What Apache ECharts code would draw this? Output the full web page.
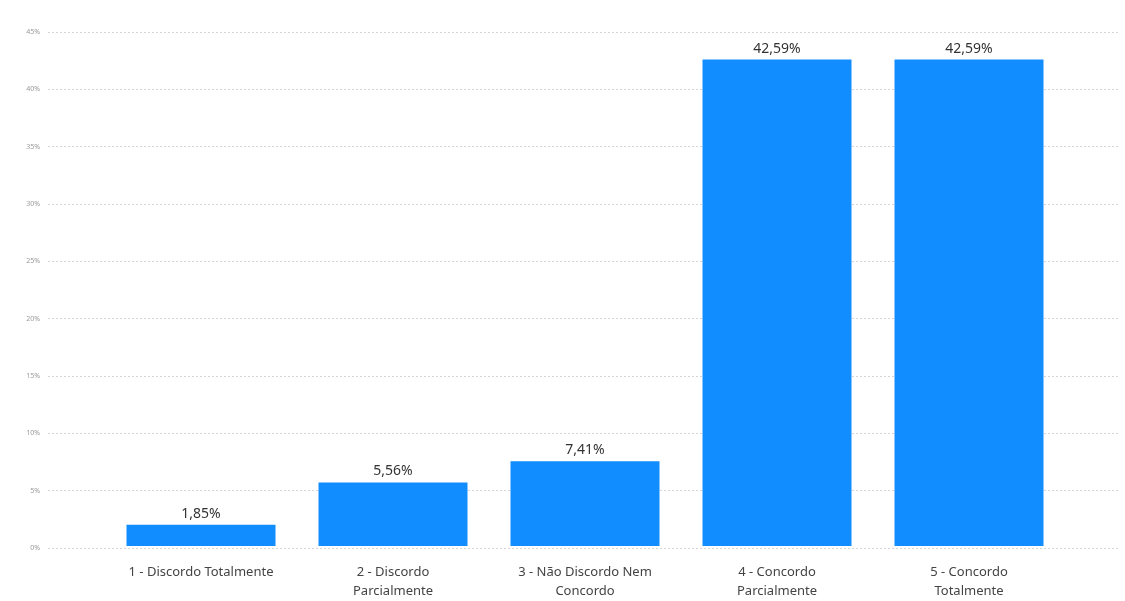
<!DOCTYPE html>
<html><head><meta charset="utf-8">
<script src="https://cdn.jsdelivr.net/npm/echarts@6/dist/echarts.min.js"></script>
<style>html,body{margin:0;padding:0;background:#fff}#c{width:1125px;height:601px}</style>
</head><body><div id="c"></div>
<script>
const categories = ["1 - Discordo Totalmente", "2 - Discordo\nParcialmente", "3 - Não Discordo Nem\nConcordo", "4 - Concordo\nParcialmente", "5 - Concordo\nTotalmente"];
const values = [1.85, 5.56, 7.41, 42.59, 42.59];
const yMin = 0, yMax = 45, yStep = 5;

const chart = echarts.init(document.getElementById('c'));
const font = '"Noto Sans", "Open Sans", sans-serif';
chart.setOption({
  animation: false,
  grid: [
    {left: 48, right: 5, top: 32, bottom: 53},
    {left: 105, right: 60, top: 32, bottom: 53}
  ],
  xAxis: [
    {gridIndex: 0, type: 'category', data: categories, show: false},
    {gridIndex: 1, type: 'category', data: categories,
     axisLine: {show: false}, axisTick: {show: false},
     axisLabel: {interval: 0, color: '#444', fontSize: 13, fontFamily: font, lineHeight: 19, margin: 17}}
  ],
  yAxis: [
    {gridIndex: 0, type: 'value', min: yMin, max: yMax, interval: yStep,
     axisLine: {show: false}, axisTick: {show: false},
     axisLabel: {formatter: '{value}%', color: '#999', fontSize: 7, fontFamily: font, margin: 8},
     splitLine: {lineStyle: {color: '#d6d6d6', type: [2, 2], width: 1}}},
    {gridIndex: 1, type: 'value', min: yMin, max: yMax, interval: yStep, show: false}
  ],
  series: [{
    type: 'bar', xAxisIndex: 1, yAxisIndex: 1, data: values,
    barWidth: 149,
    itemStyle: {color: '#118DFF'},
    label: {show: true, position: 'top', distance: 4, color: '#333', fontSize: 14, fontFamily: font,
      formatter: p => p.value.toFixed(2).replace('.', ',') + '%'}
  }]
});
</script></body></html>
